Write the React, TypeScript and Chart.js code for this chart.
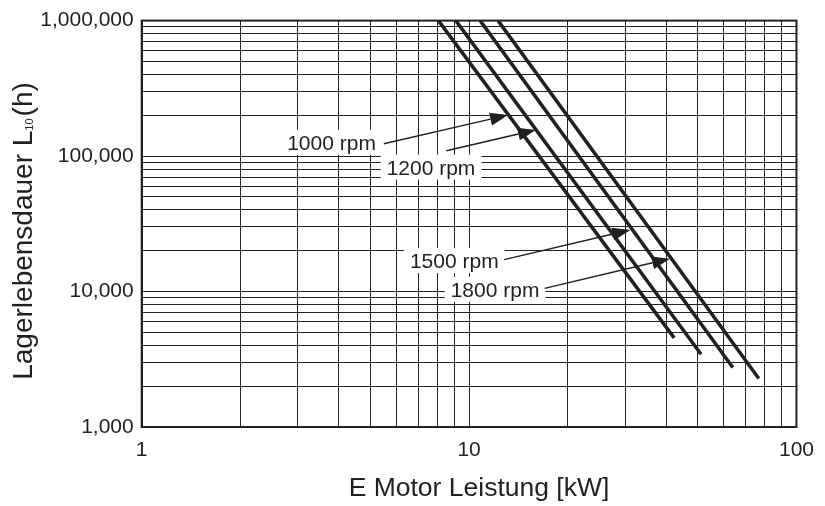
import { useEffect, useRef } from 'react';
import { Chart, registerables } from 'chart.js';

Chart.register(...registerables);

// ---- data ----
const seriesNames = ['1000 rpm', '1200 rpm', '1500 rpm', '1800 rpm'];
const powerStart = [8.06, 9.11, 10.81, 12.26];
const lifeStart = [1000000, 1000000, 1000000, 1000000];
const powerEnd = [42.3, 51.1, 63.9, 76.7];
const lifeEnd = [4550, 3444, 2745, 2281];

const xGridValues = [1, 2, 3, 4, 5, 6, 7, 8, 9, 10, 20, 30, 40, 50, 60, 70, 80, 90, 100];
const yGridValues = [
  1000, 2000, 3000, 4000, 5000, 6000, 7000, 8000, 9000,
  10000, 20000, 30000, 40000, 50000, 60000, 70000, 80000, 90000,
  100000, 200000, 300000, 400000, 500000, 600000, 700000, 800000, 900000,
  1000000,
];
const xTickValues = [1, 10, 100];
const xTickLabels = ['1', '10', '100'];
const yTickValues = [1000, 10000, 100000, 1000000];
const yTickLabels = ['1,000', '10,000', '100,000', '1,000,000'];

// annotation anchors (data units)
const labelPower = [3.8, 7.65, 9.01, 12.0];
const labelLife = [126400, 82960, 16900, 10380];
const arrowFromPower = [5.49, 8.52, 12.8, 17.0];
const arrowFromLife = [123200, 109500, 17200, 10550];
const arrowToPower = [13.15, 16.0, 31.1, 41.1];
const arrowToLife = [200700, 156000, 28500, 17490];

const xTitle = 'E Motor Leistung [kW]';
const yTitleMain = 'Lagerlebensdauer L';
const yTitleSub = '10';
const yTitleTail = '(h)';

const FONT = '"Liberation Sans", Arial, Helvetica, sans-serif';
const INK = '#231f20';

const framePlugin = {
  id: 'frameAndNotes',
  afterDatasetsDraw(chart: any) {
    const { ctx, chartArea, scales } = chart;
    const xs = scales.x;
    const ys = scales.y;
    ctx.save();
    // frame
    ctx.strokeStyle = INK;
    ctx.lineWidth = 2;
    ctx.strokeRect(chartArea.left, chartArea.top, chartArea.right - chartArea.left, chartArea.bottom - chartArea.top);

    // labels + arrows
    ctx.font = `21px ${FONT}`;
    for (let i = 0; i < seriesNames.length; i++) {
      const px = xs.getPixelForValue(labelPower[i]);
      const py = ys.getPixelForValue(labelLife[i]);
      const w = ctx.measureText(seriesNames[i]).width;
      ctx.fillStyle = '#ffffff';
      ctx.fillRect(px - w / 2 - 6, py - 12.5, w + 12, 25);
      ctx.fillStyle = INK;
      ctx.textAlign = 'center';
      ctx.textBaseline = 'alphabetic';
      ctx.fillText(seriesNames[i], px, py + 7.5);

      const fx = xs.getPixelForValue(arrowFromPower[i]);
      const fy = ys.getPixelForValue(arrowFromLife[i]);
      const tx = xs.getPixelForValue(arrowToPower[i]);
      const ty = ys.getPixelForValue(arrowToLife[i]);
      const ang = Math.atan2(ty - fy, tx - fx);
      const headLen = 18;
      const headHalf = 6.5;
      const bx = tx - headLen * Math.cos(ang);
      const by = ty - headLen * Math.sin(ang);
      ctx.strokeStyle = INK;
      ctx.lineWidth = 1.4;
      ctx.beginPath();
      ctx.moveTo(fx, fy);
      ctx.lineTo(bx, by);
      ctx.stroke();
      ctx.beginPath();
      ctx.moveTo(tx, ty);
      ctx.lineTo(bx + headHalf * Math.sin(ang), by - headHalf * Math.cos(ang));
      ctx.lineTo(bx - headHalf * Math.sin(ang), by + headHalf * Math.cos(ang));
      ctx.closePath();
      ctx.fill();
    }
    ctx.restore();
  },
  afterDraw(chart: any) {
    const { ctx } = chart;
    ctx.save();
    ctx.fillStyle = INK;
    // x title
    ctx.font = `26.5px ${FONT}`;
    ctx.textAlign = 'center';
    ctx.textBaseline = 'alphabetic';
    ctx.fillText(xTitle, 479, 496);

    // y title (rotated, with subscript)
    ctx.translate(32, 231);
    ctx.rotate(-Math.PI / 2);
    ctx.textAlign = 'left';
    const mainFont = `28px ${FONT}`;
    const subFont = `11px ${FONT}`;
    ctx.font = mainFont;
    const w1 = ctx.measureText(yTitleMain).width;
    const w3 = ctx.measureText(yTitleTail).width;
    ctx.font = subFont;
    const w2 = ctx.measureText(yTitleSub).width;
    const gap = 2;
    const total = w1 + w2 + gap + w3;
    let x0 = -total / 2;
    ctx.font = mainFont;
    ctx.fillText(yTitleMain, x0, 0);
    x0 += w1;
    ctx.font = subFont;
    ctx.fillText(yTitleSub, x0, 1);
    x0 += w2 + gap;
    ctx.font = mainFont;
    ctx.fillText(yTitleTail, x0, 0);
    ctx.restore();
  },
};

export default function App() {
  const ref = useRef<HTMLCanvasElement | null>(null);

  useEffect(() => {
    document.body.style.margin = '0';
    const canvas = ref.current;
    if (!canvas) return;
    const chart = new Chart(canvas, {
      type: 'scatter',
      data: {
        datasets: seriesNames.map((name, i) => ({
          label: name,
          data: [
            { x: powerStart[i], y: lifeStart[i] },
            { x: powerEnd[i], y: lifeEnd[i] },
          ],
          showLine: true,
          borderColor: INK,
          backgroundColor: INK,
          borderWidth: 3.5,
          borderCapStyle: 'butt',
          pointRadius: 0,
          fill: false,
        })),
      },
      options: {
        responsive: false,
        animation: false,
        devicePixelRatio: 1,
        events: [],
        layout: { padding: { top: 17, right: 25, left: 0, bottom: 0 } },
        plugins: { legend: { display: false }, tooltip: { enabled: false } },
        scales: {
          x: {
            type: 'logarithmic',
            min: 1,
            max: 100,
            afterBuildTicks: (s: any) => {
              s.ticks = xGridValues.map((v) => ({ value: v }));
            },
            afterFit: (s: any) => {
              s.height = 79;
            },
            grid: { color: '#222222', lineWidth: 1, drawTicks: false },
            border: { color: INK, width: 2 },
            ticks: {
              autoSkip: false,
              maxRotation: 0,
              padding: 11,
              color: INK,
              font: { family: FONT, size: 21 },
              callback: (v: any) => {
                const k = xTickValues.indexOf(Number(v));
                return k >= 0 ? xTickLabels[k] : '';
              },
            },
          },
          y: {
            type: 'logarithmic',
            min: 1000,
            max: 1000000,
            afterBuildTicks: (s: any) => {
              s.ticks = yGridValues.map((v) => ({ value: v }));
            },
            afterFit: (s: any) => {
              s.width = 141.7;
            },
            grid: { color: '#222222', lineWidth: 1, drawTicks: false },
            border: { color: INK, width: 2 },
            ticks: {
              autoSkip: false,
              padding: 8,
              color: INK,
              font: { family: FONT, size: 21 },
              callback: (v: any) => {
                const k = yTickValues.indexOf(Number(v));
                return k >= 0 ? yTickLabels[k] : '';
              },
            },
          },
        },
      } as any,
      plugins: [framePlugin],
    });
    return () => chart.destroy();
  }, []);

  return (
    <div style={{ position: 'absolute', left: 0, top: 0, width: 825, height: 506 }}>
      <canvas ref={ref} width={825} height={506} style={{ width: 825, height: 506, display: 'block' }} />
    </div>
  );
}
